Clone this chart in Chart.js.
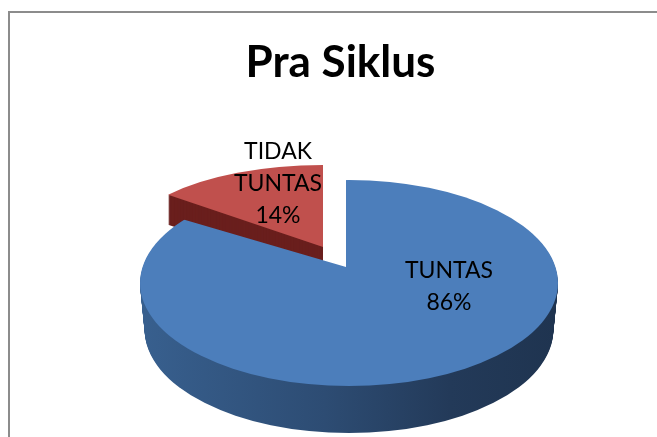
<!DOCTYPE html>
<html>
<head>
<meta charset="utf-8">
<title>Pra Siklus</title>
<script src="https://cdn.jsdelivr.net/npm/chart.js@4"></script>
<style>
  html, body { margin: 0; padding: 0; background: #fff; overflow: hidden; }
  #frame { position: absolute; left: 8px; top: 11px; right: -4px; bottom: -4px; border: 2px solid #8c8c8c; }
  #pie { position: absolute; left: 0; top: 0; }
</style>
</head>
<body>
<div id="frame"></div>
<canvas id="pie" width="657" height="437"></canvas>
<script>
const categories = ["TUNTAS", "TIDAK TUNTAS"];
const percentValues = [86, 14];
const sliceColors = ["#4c7ebb", "#c0504d"];

const labelFont = "23px Lato, Carlito, sans-serif";
const labelLineHeight = 32;
const labelCenters = [{ x: 449, y: 287 }, { x: 278, y: 184 }];

// how each slice is tilted: apex on the page, horizontal and vertical radius, side depth
const blueTilt = { apexX: 346, apexY: 267, rx: 209, ry: 74, depth: 47 };
const redTilt = { apexX: 323, apexY: 247, rx: 201, ry: 82, depth: 30 };
// the big slice is seen in perspective, so its rim is not centred on its apex
const blueRim = { x: 349, y: 283, rx: 209, ry: 103 };

function placeArc(ctx, arc, tilt, reach, drop) {
  const scale = reach / arc.outerRadius;
  ctx.translate(tilt.apexX, tilt.apexY + drop);
  ctx.scale(tilt.rx * scale, tilt.ry * scale);
  ctx.translate(-arc.x, -arc.y);
}

function drawBlue(ctx, arc) {
  const half = arc.outerRadius / 2;
  const shade = ctx.createLinearGradient(arc.x - half, 0, arc.x + half, 0);
  shade.addColorStop(0, "#38608f");
  shade.addColorStop(0.45, "#2d4c73");
  shade.addColorStop(0.75, "#233a59");
  shade.addColorStop(1, "#1f3450");

  const side = Object.create(arc);
  side.options = { ...arc.options, backgroundColor: shade };

  for (let drop = blueTilt.depth; drop >= 0; drop--) {
    ctx.save();
    ctx.beginPath();
    ctx.ellipse(blueRim.x, blueRim.y + drop, blueRim.rx - drop * 0.1, blueRim.ry, 0, 0, Math.PI * 2);
    ctx.clip();
    placeArc(ctx, arc, blueTilt, 2, drop);
    (drop === 0 ? arc : side).draw(ctx);
    ctx.restore();
  }
}

function drawRed(ctx, arc) {
  const side = Object.create(arc);
  side.options = { ...arc.options, backgroundColor: "#6a1f1d" };

  for (let drop = redTilt.depth; drop >= 0; drop--) {
    ctx.save();
    placeArc(ctx, arc, redTilt, 1, drop);
    (drop === 0 ? arc : side).draw(ctx);
    ctx.restore();
  }
}

const tiltedPie = {
  id: "tiltedPie",
  beforeDatasetsDraw(chart) {
    const arcs = chart.getDatasetMeta(0).data;
    drawRed(chart.ctx, arcs[1]);
    drawBlue(chart.ctx, arcs[0]);
    return false;
  },
  afterDraw(chart) {
    const ctx = chart.ctx;
    ctx.save();
    ctx.font = labelFont;
    ctx.fillStyle = "#000";
    ctx.textAlign = "center";
    ctx.textBaseline = "middle";
    categories.forEach((name, index) => {
      const lines = [...name.split(" "), `${percentValues[index]}%`];
      const top = labelCenters[index].y - (lines.length - 1) * labelLineHeight / 2;
      lines.forEach((line, row) => {
        ctx.fillText(line, labelCenters[index].x, top + row * labelLineHeight);
      });
    });
    ctx.restore();
  },
};

new Chart(document.querySelector("#pie"), {
  type: "pie",
  data: {
    labels: categories,
    datasets: [{
      data: percentValues,
      backgroundColor: sliceColors,
      borderWidth: 0,
    }],
  },
  options: {
    responsive: false,
    animation: false,
    layout: { padding: { left: 24, top: 36 } },
    plugins: {
      legend: { display: false },
      tooltip: { enabled: false },
      title: {
        display: true,
        text: "Pra Siklus",
        color: "#000",
        font: { family: "Lato, Carlito, sans-serif", size: 44, weight: "bold" },
        padding: 0,
      },
    },
  },
  plugins: [tiltedPie],
});
</script>
</body>
</html>
